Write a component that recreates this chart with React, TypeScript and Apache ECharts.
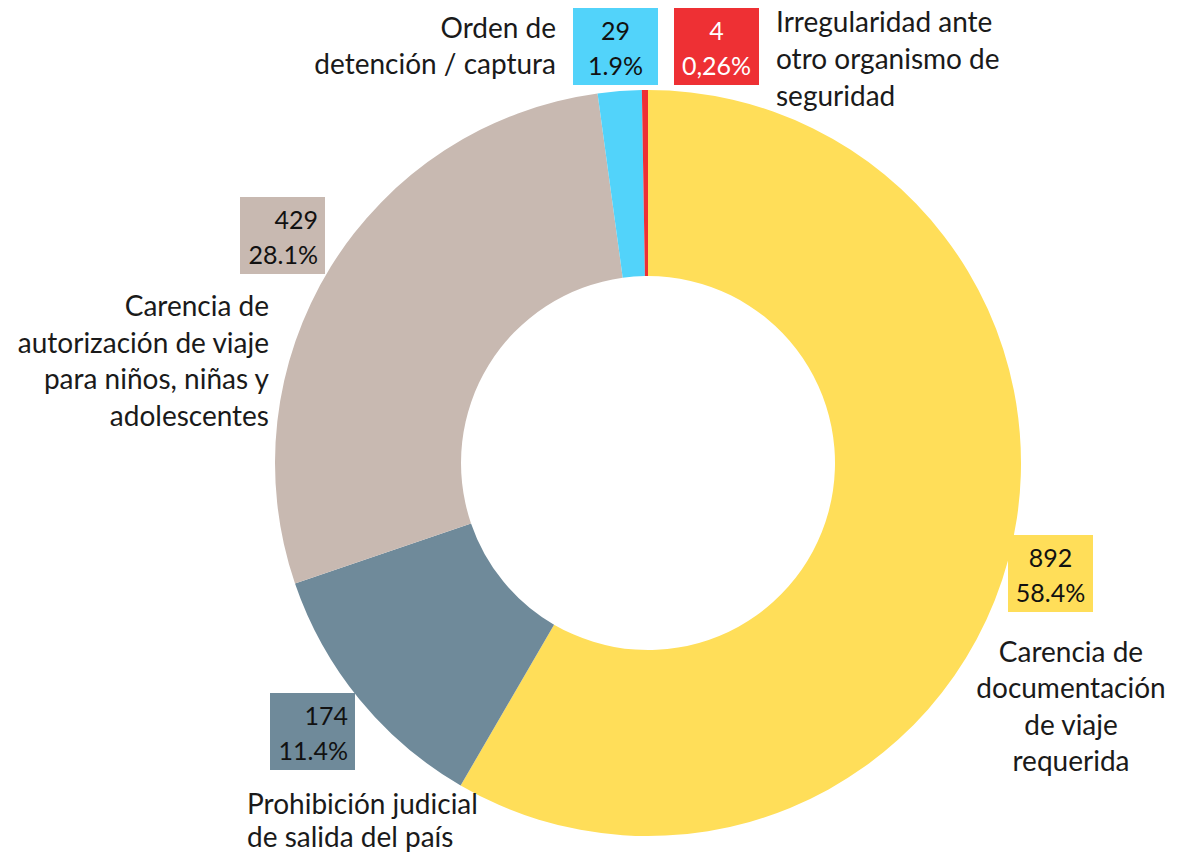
import React, { useEffect, useRef } from "react";
import * as echarts from "echarts";

const categories = [
  "Carencia de\ndocumentación\nde viaje\nrequerida",
  "Prohibición judicial\nde salida del país",
  "Carencia de\nautorización de viaje\npara niños, niñas y\nadolescentes",
  "Orden de\ndetención / captura",
  "Irregularidad ante\notro organismo de\nseguridad",
];
const values = [892, 174, 429, 29, 4];
const percentLabels = ["58.4%", "11.4%", "28.1%", "1.9%", "0,26%"];
const colors = ["#FFDE59", "#6F8A9A", "#C8B9B1", "#52D3FA", "#EE3034"];
const boxTextColors = ["#111", "#111", "#111", "#111", "#fff"];

// layout (positions only)
const boxes = [
  { x: 1008, y: 535, align: "center" },
  { x: 270, y: 693, align: "right" },
  { x: 240, y: 197, align: "right" },
  { x: 573, y: 8, align: "center" },
  { x: 674, y: 8, align: "center" },
];
const catPos = [
  { x: 1071, y: 633, align: "center", lh: 36.3 },
  { x: 247, y: 786.5, align: "left", lh: 33 },
  { x: 269, y: 287, align: "right", lh: 36.5 },
  { x: 556, y: 9, align: "right", lh: 36 },
  { x: 776, y: 2, align: "left", lh: 37 },
];
const BOX_W = 85;
const BOX_H = 77;
const FONT = "Lato, 'Open Sans', sans-serif";

export default function App() {
  const ref = useRef<HTMLDivElement>(null);
  useEffect(() => {
    document.body.style.margin = "0";
    const chart = echarts.init(ref.current!, null, { renderer: "svg" });
    const graphics: any[] = [];
    values.forEach((v, i) => {
      const b = boxes[i];
      graphics.push({
        type: "rect",
        shape: { x: b.x, y: b.y, width: BOX_W, height: BOX_H },
        style: { fill: colors[i] },
        z: 10,
      });
      const tx = b.align === "center" ? b.x + BOX_W / 2 : b.x + BOX_W - 7;
      graphics.push({
        type: "text",
        z: 11,
        style: {
          text: `${v}\n${percentLabels[i]}`,
          x: tx,
          y: b.y + 4,
          align: b.align,
          verticalAlign: "top",
          lineHeight: 35,
          fontFamily: FONT,
          fontSize: 25,
          fill: boxTextColors[i],
        },
      });
      const c = catPos[i];
      graphics.push({
        type: "text",
        z: 11,
        style: {
          text: categories[i],
          x: c.x,
          y: c.y,
          align: c.align,
          verticalAlign: "top",
          lineHeight: c.lh,
          fontFamily: FONT,
          fontSize: 28,
          fill: "#1a1a1a",
        },
      });
    });
    chart.setOption({
      animation: false,
      graphic: graphics,
      series: [
        {
          type: "pie",
          center: [648, 463],
          radius: [187, 373],
          startAngle: 90,
          clockwise: true,
          label: { show: false },
          labelLine: { show: false },
          emphasis: { disabled: true },
          data: values.map((v, i) => ({
            value: v,
            name: categories[i].replace(/\n/g, " "),
            itemStyle: { color: colors[i] },
          })),
        },
      ],
    });
    return () => chart.dispose();
  }, []);
  return <div ref={ref} style={{ width: 1180, height: 853 }} />;
}
